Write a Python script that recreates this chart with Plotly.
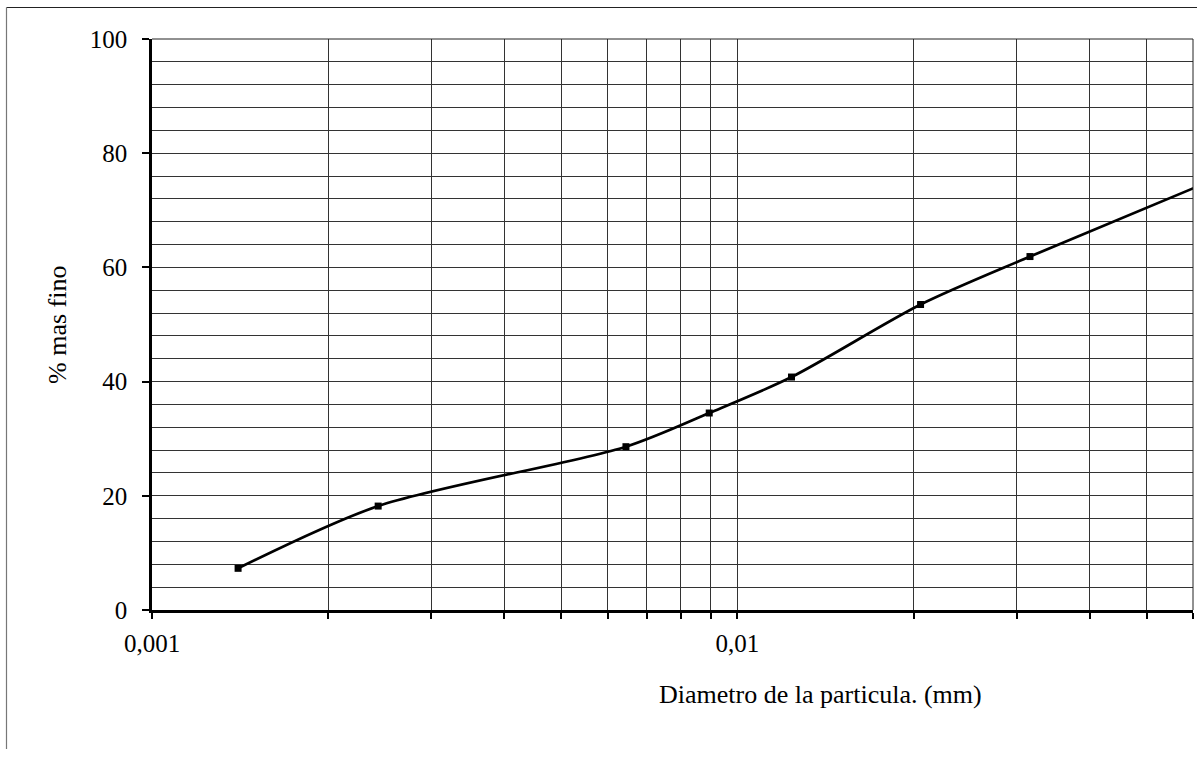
import plotly.graph_objects as go

diametro_mm = [0.001403, 0.002434, 0.00645, 0.00895, 0.01237, 0.02055, 0.0316, 0.075]
pct_mas_fino = [7.3, 18.2, 28.6, 34.5, 40.8, 53.5, 61.9, 78.0]

x_major = [0.001, 0.01]
x_major_text = ["0,001", "0,01"]
x_minor = [0.002, 0.003, 0.004, 0.005, 0.006, 0.007, 0.008, 0.009,
           0.02, 0.03, 0.04, 0.05, 0.06]
y_major = [0, 20, 40, 60, 80, 100]

FONT = "Liberation Serif, Times New Roman, serif"

fig = go.Figure()
fig.add_trace(go.Scatter(
    x=diametro_mm, y=pct_mas_fino,
    mode="lines+markers",
    line=dict(color="black", width=2.7, shape="spline", smoothing=0.8),
    marker=dict(symbol="square", size=7, color="black"),
    showlegend=False,
))

W, H = 1199, 759
L, R, T, B = 152, 1193, 39, 610
pw, ph = R - L, B - T

def px(xp):
    return (xp - L) / pw

def py(yp):
    return (B - yp) / ph

fig.update_layout(
    width=W, height=H,
    margin=dict(l=L, r=W - R, t=T, b=H - B, autoexpand=False),
    paper_bgcolor="white", plot_bgcolor="white",
    font=dict(family=FONT, size=25, color="black"),
    xaxis=dict(
        type="log", range=[-3, -1.221849],
        tickmode="array", tickvals=x_major, ticktext=x_major_text,
        ticks="outside", ticklen=6, tickwidth=2, tickcolor="black",
        ticklabelstandoff=3,
        showgrid=True, gridcolor="#333", gridwidth=1,
        showline=True, linecolor="black", linewidth=2.5,
        zeroline=False,
        tickfont=dict(family=FONT, size=25, color="black"),
        minor=dict(tickmode="array", tickvals=x_minor, ticks="outside",
                   ticklen=6, tickwidth=2, tickcolor="black",
                   showgrid=True, gridcolor="#333", gridwidth=1),
    ),
    yaxis=dict(
        range=[0, 100],
        tickmode="array", tickvals=y_major,
        ticks="outside", ticklen=7, tickwidth=2, tickcolor="black",
        ticklabelstandoff=10,
        showgrid=True, gridcolor="#333", gridwidth=1,
        showline=True, linecolor="black", linewidth=2.5,
        zeroline=False,
        tickfont=dict(family=FONT, size=25, color="black"),
        minor=dict(dtick=4, tick0=0, ticks="", showgrid=True,
                   gridcolor="#333", gridwidth=1),
    ),
    annotations=[
        dict(text="Diametro de la particula. (mm)", xref="paper", yref="paper",
             x=px(820), y=py(694), xanchor="center", yanchor="middle",
             showarrow=False, font=dict(family=FONT, size=26, color="black")),
        dict(text="% mas fino", xref="paper", yref="paper",
             x=px(57), y=py(325), xanchor="center", yanchor="middle",
             textangle=-90, showarrow=False,
             font=dict(family=FONT, size=26, color="black")),
    ],
    shapes=[
        dict(type="line", xref="paper", yref="paper",
             x0=px(6.5), x1=px(1197), y0=py(7.5), y1=py(7.5),
             line=dict(color="#222", width=1)),
        dict(type="line", xref="paper", yref="paper",
             x0=px(6.5), x1=px(6.5), y0=py(7.5), y1=py(749),
             line=dict(color="#777", width=1.2)),
        dict(type="line", xref="paper", yref="paper",
             x0=0, x1=1, y0=1, y1=1,
             line=dict(color="#222", width=1)),
        dict(type="line", xref="paper", yref="paper",
             x0=1, x1=1, y0=0, y1=1,
             line=dict(color="#222", width=1)),
    ],
)

fig.write_html("out.html", config={"displayModeBar": False},
               post_script="document.body.style.margin='0';document.body.style.overflow='hidden';")
